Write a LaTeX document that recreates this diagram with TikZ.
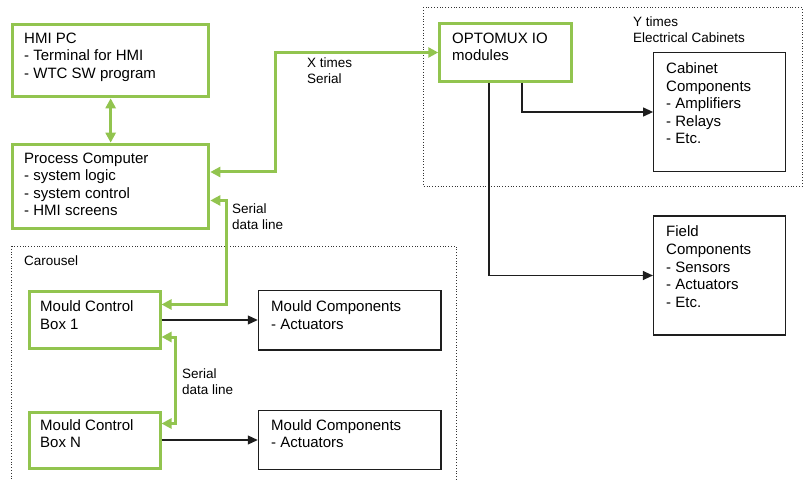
\documentclass[tikz,border=0pt]{standalone}
\usepackage{fontspec}
\setmainfont{Liberation Sans}
\usetikzlibrary{arrows.meta}
\definecolor{grn}{RGB}{146,196,79}
\definecolor{dk}{RGB}{30,30,30}
\tikzset{
  gbox/.style={draw=grn, line width=3pt, inner sep=0pt, minimum width=#1},
  bbox/.style={draw=dk, line width=1.2pt, inner sep=0pt, minimum width=#1},
  txt/.style={anchor=north west, inner sep=0pt, align=left, font=\fontsize{15}{17.6}\selectfont},
  small/.style={anchor=north west, inner sep=0pt, align=left, font=\fontsize{13.5}{16}\selectfont},
  gline/.style={draw=grn, line width=3pt, {Triangle[length=10pt,width=10pt]}-{Triangle[length=10pt,width=10pt]}},
  bline/.style={draw=dk, line width=1.2pt, -{Triangle[length=10pt,width=9pt]}},
  dotbox/.style={draw=black!80, line width=0.8pt, dotted}
}
\begin{document}
\begin{tikzpicture}[x=1pt,y=-1pt]
\useasboundingbox (0,0) rectangle (803,481);
% dotted groups
\draw[dotbox] (423,7.5) rectangle (802,186);
\draw[dotbox] (11.5,246) rectangle (456,520);
% boxes
\node[gbox=196.3pt, minimum height=72.6pt] (hmi) at (110.65,60.5) {};
\node[gbox=196.3pt, minimum height=84.6pt] (pc) at (110.65,186.5) {};
\node[gbox=131.5pt, minimum height=57.5pt] (opto) at (505.5,52.75) {};
\node[bbox=132pt, minimum height=119pt] (cab) at (719.7,112.2) {};
\node[bbox=132pt, minimum height=119pt] (field) at (719.5,275.5) {};
\node[gbox=130.8pt, minimum height=57.3pt] (mcb1) at (94.6,320.2) {};
\node[gbox=130.8pt, minimum height=56.6pt] (mcbn) at (94.6,440.5) {};
\node[bbox=182.7pt, minimum height=59.3pt] (mc1) at (349.7,320.3) {};
\node[bbox=182.7pt, minimum height=58.6pt] (mcn) at (349.7,440) {};
% texts
\node[txt] (thmi) at (24,32.6) {HMI PC\\- Terminal for HMI\\- WTC SW program};
\node[txt] (tpc) at (24,152.5) {Process Computer\\- system logic\\- system control\\- HMI screens};
\node[txt] (topto) at (452,32.5) {OPTOMUX IO\\modules};
\node[txt] (tcab) at (666,62.5) {Cabinet\\Components\\- Amplifiers\\- Relays\\- Etc.};
\node[txt] (tfield) at (666,225.9) {Field\\Components\\- Sensors\\- Actuators\\- Etc.};
\node[txt] (tmcb1) at (40,300.9) {Mould Control\\Box 1};
\node[txt] (tmc1) at (271,300.9) {Mould Components\\- Actuators};
\node[txt] (tmcbn) at (40,419.2) {Mould Control\\Box N};
\node[txt] (tmcn) at (271,419.2) {Mould Components\\- Actuators};
\node[small] (lx) at (307,58) {X times\\Serial};
\node[small] (ly) at (633,17) {Y times\\Electrical Cabinets};
\node[small] (ls1) at (232,203.6) {Serial\\data line};
\node[small] (ls2) at (182,368.6) {Serial\\data line};
\node[small] (lcar) at (24,255.3) {Carousel};
% helper coordinates
\coordinate (xa) at (275,172);
\coordinate (xb) at (275,52.5);
\coordinate (sa) at (226,200.5);
\coordinate (sb) at (226,304.5);
\coordinate (ta) at (175,337);
\coordinate (tb) at (175,423.5);
\coordinate (ua) at (522,112);
\coordinate (va) at (489,275.5);
\coordinate (wa) at (0,320);
\coordinate (wb) at (0,440);
% green connectors
\draw[gline] (hmi.south) -- (pc.north);
\draw[gline] (pc.east |- xa) -- (xa) -- (xb) -- (opto.west |- xb);
\draw[gline] (pc.east |- sa) -- (sa) -- (sb) -- (mcb1.east |- sb);
\draw[gline] (mcb1.east |- ta) -- (ta) -- (tb) -- (mcbn.east |- tb);
% black connectors
\draw[bline] (opto.south -| ua) -- (ua) -- (cab.west |- ua);
\draw[bline] (opto.south -| va) -- (va) -- (field.west |- va);
\draw[bline] (mcb1.east |- wa) -- (mc1.west |- wa);
\draw[bline] (mcbn.east |- wb) -- (mcn.west |- wb);
\end{tikzpicture}
\end{document}
